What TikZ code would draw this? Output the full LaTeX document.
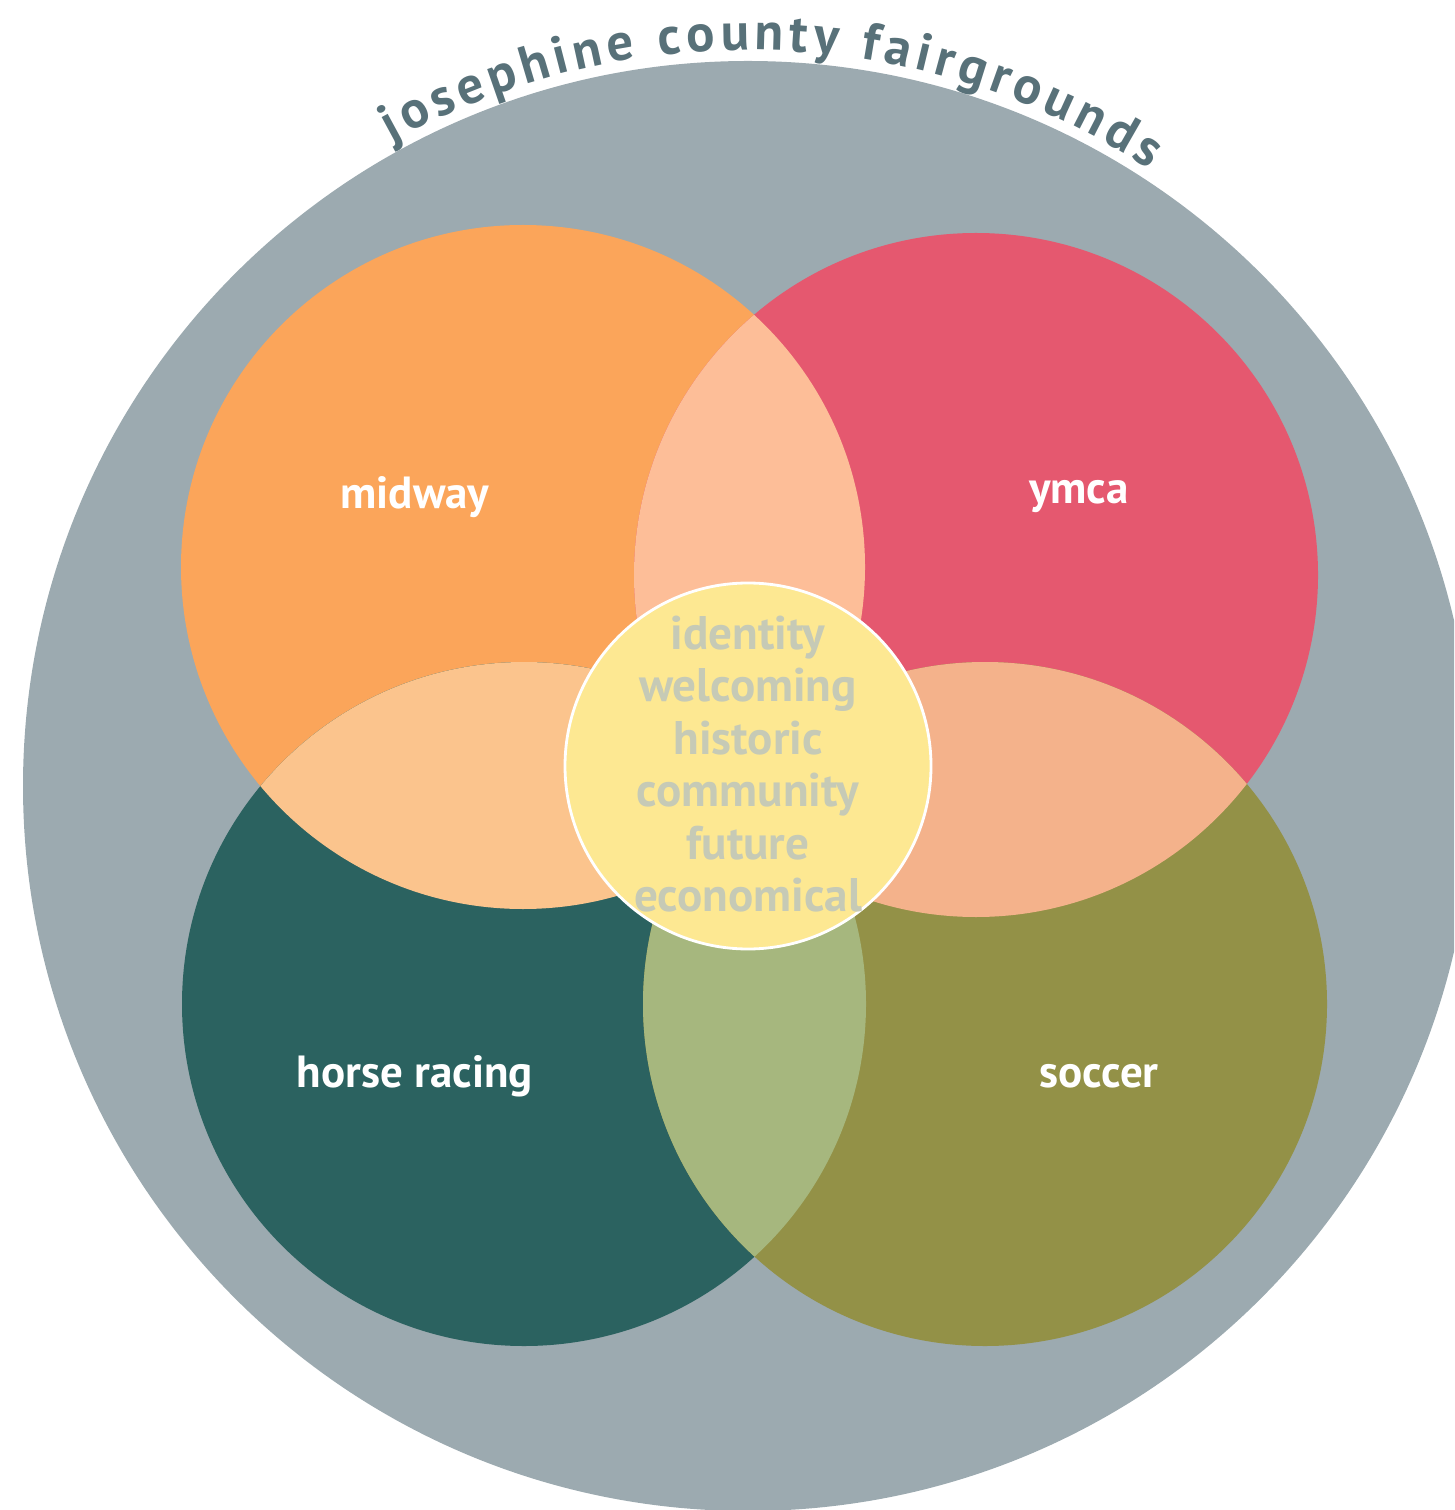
\documentclass[tikz,border=0pt]{standalone}
\usepackage{fontspec}
\setmainfont{PT Sans}
\usetikzlibrary{calc,decorations.text}
\definecolor{ringgray}{HTML}{9CAAB0}
\definecolor{titleslate}{HTML}{587179}
\definecolor{midwayorange}{HTML}{FBA55A}
\definecolor{ymcared}{HTML}{E5586F}
\definecolor{horseteal}{HTML}{2B6260}
\definecolor{soccerolive}{HTML}{939147}
\definecolor{lenstop}{HTML}{FDBE98}
\definecolor{lensleft}{HTML}{FBC48D}
\definecolor{lensright}{HTML}{F4B28B}
\definecolor{lensbottom}{HTML}{A6B77E}
\definecolor{coreyellow}{HTML}{FDE892}
\definecolor{coreword}{HTML}{C6CAB6}
\tikzset{
  label/.style={text=white, font=\bfseries\fontsize{12.8}{15}\selectfont},
  coreword/.style={text=coreword, align=center, font=\bfseries\fontsize{13.4}{14.9}\selectfont}
}
\def\rad{342}
\begin{document}
\begin{tikzpicture}[x=0.01cm,y=0.01cm]
		%%%%% START %%%%%
		\useasboundingbox (0,-1510) rectangle (1454,0);
		\coordinate (bigc) at (748,-786);
		\coordinate (mid) at (523,-567);
		\coordinate (ymc) at (976,-575);
		\coordinate (hor) at (524,-1004);
		\coordinate (soc) at (985,-1004);
		
		\begin{scope}
			\clip (0,-1510) rectangle (1454,0);
			\fill[ringgray] (bigc) circle (725);
		\end{scope}
		
		\fill[midwayorange] (mid) circle (\rad);
		\fill[ymcared] (ymc) circle (\rad);
		\fill[horseteal] (hor) circle (\rad);
		\fill[soccerolive] (soc) circle (\rad);
		
		\begin{scope}
			\clip (mid) circle (\rad);
			\fill[lenstop] (ymc) circle (\rad);
			\fill[lensleft] (hor) circle (\rad);
		\end{scope}
		\begin{scope}
			\clip (soc) circle (\rad);
			\fill[lensright] (ymc) circle (\rad);
			\fill[lensbottom] (hor) circle (\rad);
		\end{scope}
		
		\draw[white, line width=0.8pt, fill=coreyellow] (748,-766) circle (183);
		
		\node[label] (midway) at (415,-497) {midway};
		\node[label] (ymca) at (1079,-497) {ymca};
		\node[label] (horse) at (415,-1076) {horse racing};
		\node[label] (soccer) at (1099,-1076) {soccer};
		
		\node[coreword] (words) at (748,-764) {identity\\welcoming\\historic\\community\\future\\economical};
		
		\path[decorate, decoration={text along path, text align=fit to path,
			text={|\bfseries\fontsize{15}{15}\selectfont\color{titleslate}|josephine county fairgrounds}}]
			($(bigc)+(119:736)$) arc (119:57:736);
		%%%%% END %%%%%
\end{tikzpicture}
\end{document}
